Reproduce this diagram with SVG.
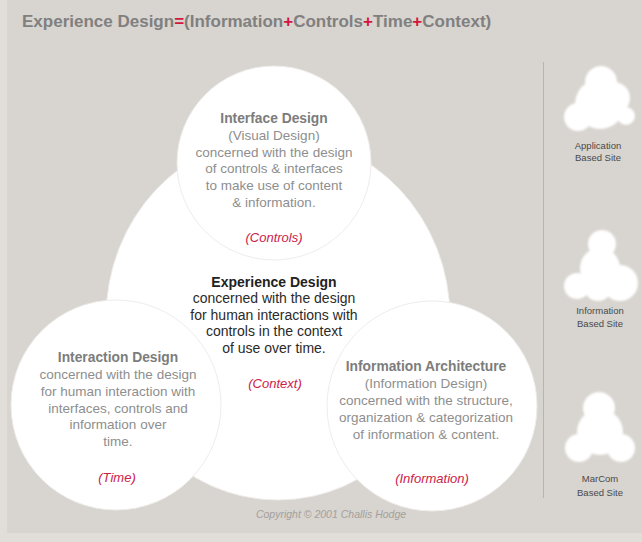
<svg xmlns="http://www.w3.org/2000/svg" width="642" height="542" viewBox="0 0 642 542">
  <defs>
    <style>
      text { font-family: "Liberation Sans", Arial, sans-serif; }
      .title { font-size: 17px; font-weight: bold; fill: #808080; }
      .op { fill: #d3163e; }
      .disc { fill: #ffffff; stroke: #efedeb; stroke-width: 1; }
      .mini { fill: #ffffff; }
      .head { font-size: 13.8px; font-weight: bold; fill: #7c7c7c; text-anchor: middle; }
      .body { font-size: 13.5px; fill: #8e8e8e; text-anchor: middle; }
      .chead { font-size: 14px; font-weight: bold; fill: #222222; text-anchor: middle; }
      .cbody { font-size: 14px; fill: #2a2a2a; text-anchor: middle; }
      .tag { font-size: 13px; font-style: italic; fill: #cc2149; text-anchor: middle; }
      .cap { font-size: 9.5px; fill: #4a4a4a; text-anchor: middle; }
      .copy { font-size: 10.5px; font-style: italic; fill: #a3a09c; text-anchor: middle; }
    </style>
    <filter id="soft" x="-20%" y="-20%" width="140%" height="140%">
      <feGaussianBlur stdDeviation="0.9"/>
    </filter>
  </defs>

  <!-- backdrop -->
  <rect x="0" y="0" width="642" height="542" fill="#e1deda"/>
  <rect x="7" y="0" width="635" height="533" fill="#d8d4cf"/>

  <!-- formula heading -->
  <text class="title" x="22" y="27">Experience Design<tspan class="op">=</tspan>(Information<tspan class="op">+</tspan>Controls<tspan class="op">+</tspan>Time<tspan class="op">+</tspan>Context)</text>

  <!-- divider between the model and the site types -->
  <g id="connectors">
    <line x1="543.5" y1="62" x2="543.5" y2="498" stroke="#b9b4ae" stroke-width="1"/>
  </g>

  <!-- central disc: experience design -->
  <g id="experience-design">
    <ellipse class="disc" cx="278" cy="318" rx="172" ry="182"/>
  </g>

  <!-- top disc: interface design -->
  <g id="interface-design">
    <circle class="disc" cx="274" cy="163" r="97"/>
    <text class="head" x="274" y="123">Interface Design</text>
    <text class="body" x="274" y="140">(Visual Design)</text>
    <text class="body" x="274" y="157">concerned with the design</text>
    <text class="body" x="274" y="173">of controls &amp; interfaces</text>
    <text class="body" x="274" y="190">to make use of content</text>
    <text class="body" x="274" y="207">&amp; information.</text>
    <text class="tag" x="274" y="242">(Controls)</text>
  </g>

  <!-- left disc: interaction design -->
  <g id="interaction-design">
    <circle class="disc" cx="116" cy="405" r="105"/>
    <text class="head" x="118" y="362">Interaction Design</text>
    <text class="body" x="118" y="379">concerned with the design</text>
    <text class="body" x="118" y="396">for human interaction with</text>
    <text class="body" x="118" y="413">interfaces, controls and</text>
    <text class="body" x="118" y="429">information over</text>
    <text class="body" x="118" y="446">time.</text>
    <text class="tag" x="117" y="482">(Time)</text>
  </g>

  <!-- right disc: information architecture -->
  <g id="information-architecture">
    <circle class="disc" cx="432" cy="406" r="105"/>
    <text class="head" x="426" y="371">Information  Architecture</text>
    <text class="body" x="426" y="388">(Information Design)</text>
    <text class="body" x="426" y="405">concerned with the structure,</text>
    <text class="body" x="426" y="422">organization &amp; categorization</text>
    <text class="body" x="426" y="439">of information &amp; content.</text>
    <text class="tag" x="432" y="483">(Information)</text>
  </g>

  <!-- central label, drawn over all discs -->
  <g id="experience-design-label">
    <text class="chead" x="274" y="287">Experience Design</text>
    <text class="cbody" x="274" y="303">concerned with the design</text>
    <text class="cbody" x="274" y="320">for human interactions with</text>
    <text class="cbody" x="274" y="336">controls in the context</text>
    <text class="cbody" x="274" y="353">of use over time.</text>
    <text class="tag" x="275" y="388">(Context)</text>
  </g>

  <!-- site type: application -->
  <g id="application-site">
    <g filter="url(#soft)">
      <circle class="mini" cx="600" cy="104" r="25"/>
      <circle class="mini" cx="601" cy="82" r="16"/>
      <circle class="mini" cx="578" cy="117" r="14"/>
      <circle class="mini" cx="614" cy="98" r="16"/>
      <circle class="mini" cx="626" cy="116" r="9"/>
    </g>
    <text class="cap" x="598" y="149">Application</text>
    <text class="cap" x="598" y="161">Based Site</text>
  </g>

  <!-- site type: information -->
  <g id="information-site">
    <g filter="url(#soft)">
      <circle class="mini" cx="602" cy="244" r="14"/>
      <circle class="mini" cx="600" cy="268" r="20"/>
      <circle class="mini" cx="577" cy="286" r="13"/>
      <circle class="mini" cx="620" cy="283" r="18"/>
      <circle class="mini" cx="598" cy="287" r="14"/>
    </g>
    <text class="cap" x="600" y="314">Information</text>
    <text class="cap" x="600" y="327">Based Site</text>
  </g>

  <!-- site type: marcom -->
  <g id="marcom-site">
    <g filter="url(#soft)">
      <circle class="mini" cx="599" cy="408" r="16"/>
      <circle class="mini" cx="600" cy="432" r="23"/>
      <circle class="mini" cx="579" cy="448" r="14"/>
      <circle class="mini" cx="621" cy="448" r="14"/>
    </g>
    <text class="cap" x="600" y="482">MarCom</text>
    <text class="cap" x="600" y="496">Based Site</text>
  </g>

  <text class="copy" x="331" y="518">Copyright © 2001 Challis Hodge</text>
</svg>
